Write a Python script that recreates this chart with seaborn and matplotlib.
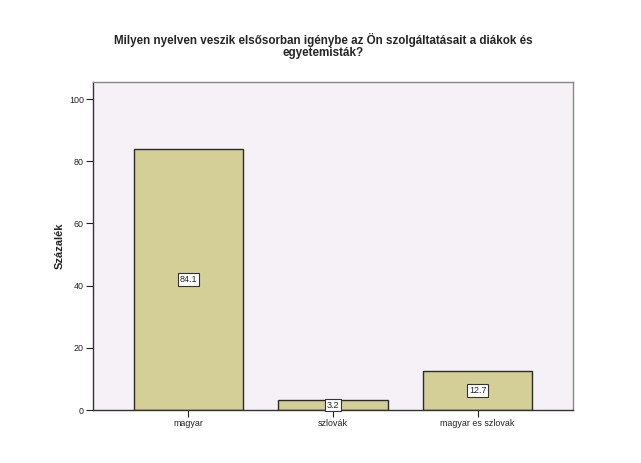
import matplotlib
matplotlib.use("Agg")
import matplotlib.pyplot as plt
import seaborn as sns
import pandas as pd

categories = ["magyar", "szlovák", "magyar es szlovak"]
percent = [84.1, 3.2, 12.7]
value_labels = ["84.1", "3.2", "12.7"]
y_ticks = [0, 20, 40, 60, 80, 100]

title = "Milyen nyelven veszik elsősorban igénybe az Ön szolgáltatásait a diákok és\negyetemisták?"
y_label = "Százalék"

df = pd.DataFrame({"cat": categories, "pct": percent})

sns.set_style("white")
plt.rcParams["font.family"] = ["Liberation Sans", "DejaVu Sans"]

fig = plt.figure(figsize=(6.41, 4.63), dpi=100)
ax = fig.add_axes([93 / 641, 1 - 410 / 463, 480 / 641, 328 / 463])
ax.set_facecolor("#F6F1F6")

sns.barplot(data=df, x="cat", y="pct", color="#D4CF97", width=0.755,
            edgecolor="#2b2b2b", linewidth=1.0, saturation=1, ax=ax)

for i, (v, lab) in enumerate(zip(percent, value_labels)):
    ax.text(i, v / 2, lab, ha="center", va="center", fontsize=6.5,
            bbox=dict(boxstyle="square,pad=0.2", fc="white", ec="#333333", lw=0.8))

ax.set_xlim(-0.66, 2.66)
ax.set_ylim(0, 105.5)
ax.set_yticks(y_ticks)
ax.set_xlabel("")
ax.set_ylabel(y_label, fontsize=8, fontweight="bold", labelpad=3)
ax.tick_params(axis="both", direction="out", length=5, width=0.8,
               labelsize=6.4, colors="#222222", left=True, bottom=True, pad=1.5)

for s in ["top", "right"]:
    ax.spines[s].set_color("#888888")
    ax.spines[s].set_linewidth(1.0)
for s in ["left", "bottom"]:
    ax.spines[s].set_color("#333333")
    ax.spines[s].set_linewidth(1.0)

fig.text(323 / 641, 1 - 46 / 463, title, ha="center", va="center",
         fontsize=8.4, fontweight="bold", linespacing=1.0)

fig.savefig("out.png", dpi=100)
